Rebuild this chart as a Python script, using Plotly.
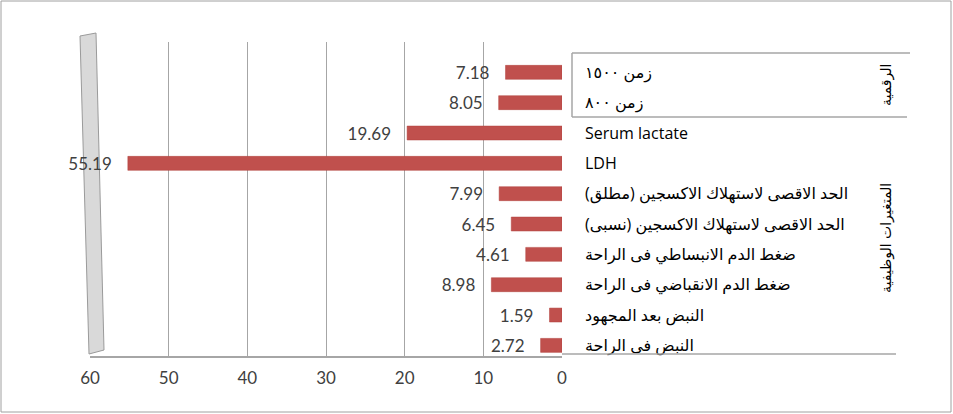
import plotly.graph_objects as go

W, H = 953, 414

# ---- data ----
categories = [
    "زمن ١٥٠٠",
    "زمن ٨٠٠",
    "Serum lactate",
    "LDH",
    "الحد الاقصى لاستهلاك الاكسجين (مطلق)",
    "الحد الاقصى لاستهلاك الاكسجين (نسبى)",
    "ضغط الدم الانبساطي فى الراحة",
    "ضغط الدم الانقباضي فى الراحة",
    "النبض بعد المجهود",
    "النبض فى الراحة",
]
values = [7.18, 8.05, 19.69, 55.19, 7.99, 6.45, 4.61, 8.98, 1.59, 2.72]
group_labels = ["الرقمية", "المتغيرات الوظيفية"]
x_ticks = [0, 10, 20, 30, 40, 50, 60]

RLM = "\u200f"
cat_display = [c + RLM for c in categories]


def px(x):
    return x / W


def py(y):
    return 1 - y / H


fig = go.Figure()
fig.add_trace(go.Bar(
    x=values,
    y=cat_display,
    orientation="h",
    marker=dict(color="#c0504d", line=dict(color="#b0403d", width=0.5)),
    texttemplate="%{x:.2f}\u00a0\u00a0\u00a0",
    textposition="outside",
    constraintext="none",
    cliponaxis=False,
    textfont=dict(family="Lato, Open Sans, sans-serif", size=17, color="#404040"),
    hoverinfo="skip",
))

gray = "#a6a6a6"
shapes = [
    # outer border
    dict(type="rect", xref="paper", yref="paper", x0=px(1), x1=px(951), y0=py(412), y1=py(1),
         line=dict(color="#a0a0a0", width=1), fillcolor="rgba(0,0,0,0)", layer="below"),
    # back wall at 60
    dict(type="path", xref="paper", yref="paper",
         path=f"M {px(80)},{py(36)} L {px(96)},{py(33)} L {px(104)},{py(350)} L {px(89)},{py(354)} Z",
         fillcolor="#d9d9d9", line=dict(color="#9a9a9a", width=1), layer="below"),
    # group separators
    dict(type="line", xref="paper", yref="paper", x0=px(572), x1=px(910), y0=py(53), y1=py(53),
         line=dict(color=gray, width=1.5)),
    dict(type="line", xref="paper", yref="paper", x0=px(572), x1=px(907), y0=py(117), y1=py(117),
         line=dict(color=gray, width=1.5)),
    dict(type="line", xref="paper", yref="paper", x0=px(562), x1=px(896), y0=py(354), y1=py(354),
         line=dict(color=gray, width=1.5)),
    dict(type="line", xref="paper", yref="paper", x0=px(572), x1=px(572), y0=py(53), y1=py(117),
         line=dict(color=gray, width=1.5)),
]

annotations = [
    dict(text=group_labels[0], xref="paper", yref="paper", x=px(886), y=py(85), showarrow=False,
         xanchor="center", yanchor="middle",
         textangle=-90, font=dict(family="DejaVu Sans, sans-serif", size=14, color="#000000")),
    dict(text=group_labels[1], xref="paper", yref="paper", x=px(886), y=py(238), showarrow=False,
         xanchor="center", yanchor="middle",
         textangle=-90, font=dict(family="DejaVu Sans, sans-serif", size=14, color="#000000")),
]

fig.update_layout(
    width=W, height=H,
    margin=dict(l=0, r=0, t=0, b=0),
    paper_bgcolor="white", plot_bgcolor="white",
    showlegend=False,
    bargap=0.54,
    shapes=shapes,
    annotations=annotations,
    xaxis=dict(
        range=[60, 0], domain=[px(90), px(562)],
        tickvals=x_ticks, showgrid=True, gridcolor=gray, gridwidth=1,
        zeroline=False, showline=True, linecolor=gray, linewidth=1.5,
        ticks="", ticklabelstandoff=6,
        tickfont=dict(family="Lato, Open Sans, sans-serif", size=17, color="#404040"),
        automargin=False, fixedrange=True,
    ),
    yaxis=dict(
        type="category", categoryorder="array", categoryarray=cat_display,
        range=[9.35, -1.0], domain=[py(356), py(42)],
        side="right", showgrid=False, zeroline=False, showline=False,
        ticks="", ticklabelstandoff=22,
        tickfont=dict(family="Open Sans, DejaVu Sans, sans-serif", size=16, color="#000000"),
        automargin=False, fixedrange=True,
    ),
)

fig.write_html("out.html")
